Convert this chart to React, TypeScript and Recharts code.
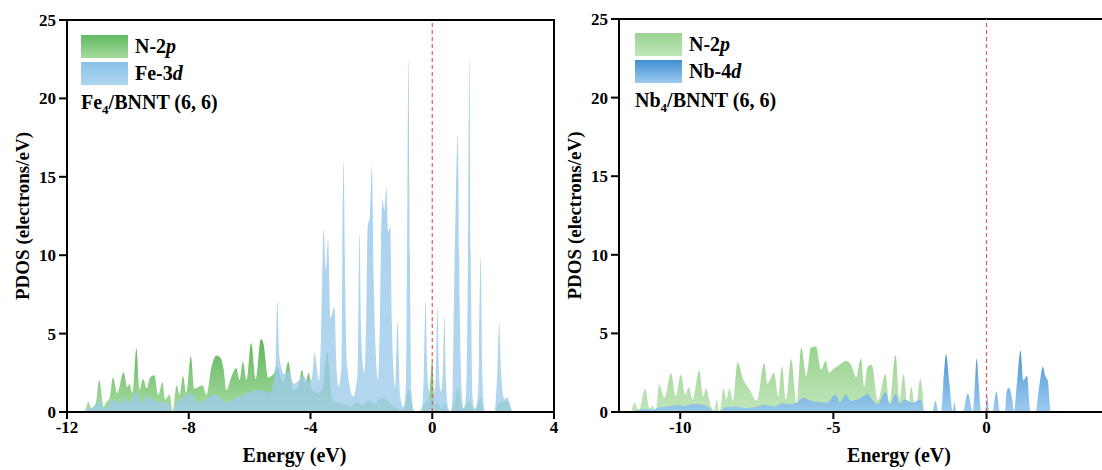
import React from "react";
import {
  ComposedChart,
  Area,
  XAxis,
  YAxis,
  ReferenceLine,
  ReferenceArea,
  Legend,
} from "recharts";

// Fe4/BNNT (6, 6)
const feN2pEnergy = [
  -11.5, -11.4, -11.3, -11.2, -11.05, -10.94, -10.8, -10.7, -10.6, -10.49, -10.35, -10.14,
  -10.02, -9.95, -9.85, -9.72, -9.62, -9.5, -9.38, -9.27, -9.13, -9.0, -8.86, -8.78, -8.63,
  -8.53, -8.4, -8.3, -8.19, -8.08, -7.93, -7.82, -7.68, -7.55, -7.42, -7.25, -7.09, -6.98,
  -6.85, -6.76, -6.6, -6.44, -6.33, -6.22, -6.1, -5.95, -5.8, -5.63, -5.55, -5.39, -5.22,
  -5.09, -4.9, -4.73, -4.57, -4.4, -4.28, -4.18, -4.06, -3.95, -3.8, -3.6, -3.45, -3.3,
  -3.15, -2.9, -2.7, -2.5, -2.3, -2.1, -1.9, -1.7, -1.5, -1.3, -1.1, -0.95, -0.78, -0.6,
  -0.4, -0.22, -0.1, 0.0, 0.08, 0.17, 0.3, 0.4, 0.55, 0.7, 0.84, 1.0, 1.22, 1.4, 1.59, 1.7,
  2.05, 2.2, 2.45, 2.62,
];
const feN2pDos = [
  0, 0.1, 0.66, 0.2, 0.6, 2.04, 0.35, 0.66, 0.9, 2.2, 1.2, 2.53,
  1.6, 1.78, 1.2, 4.06, 1.4, 2.1, 1.5, 2.2, 2.35, 1.1, 1.9, 0.8, 1.1,
  0.05, 1.7, 1.1, 2.3, 1.2, 3.55, 1.5, 1.6, 1.7, 1.1, 2.9, 3.6, 3.5,
  2.7, 1.4, 2.25, 2.8, 2.04, 3.2, 2.04, 4.4, 2.1, 4.66, 4.4, 2.2, 2.4,
  2.9, 1.9, 3.2, 1.4, 1.6, 2.7, 1.8, 2.5, 1.4, 1.2, 1.5, 3.8, 1.0,
  0.6, 0.5, 0.3, 0.6, 0.4, 0.7, 0.5, 0.9, 0.8, 0.4, 0.2, 0.1, 1.4, 0,
  0, 0.6, 1.0, 3.3, 0.5, 0.6, 0.2, 0.5, 0, 0.3, 1.5, 0.2, 0.7, 0.1, 0.9, 0,
  0, 0.6, 0.7, 0,
];

const fe3dEnergy = [
  -11.5, -11.4, -11.1, -10.94, -10.75, -10.49, -10.3, -10.14, -9.95, -9.72, -9.55, -9.36,
  -9.1, -8.8, -8.63, -8.53, -8.4, -8.2, -7.93, -7.7, -7.45, -7.2, -6.95, -6.77, -6.55,
  -6.33, -6.0, -5.67, -5.35, -5.2, -5.14, -5.09, -5.03, -4.98, -4.85, -4.72, -4.55, -4.4,
  -4.24, -4.05, -3.95, -3.87, -3.72, -3.65, -3.57, -3.5, -3.42, -3.35, -3.21, -3.15, -3.08,
  -2.98, -2.96, -2.91, -2.86, -2.8, -2.6, -2.45, -2.43, -2.39, -2.34, -2.28, -2.22, -2.17,
  -2.12, -2.05, -1.98, -1.93, -1.88, -1.78, -1.73, -1.68, -1.63, -1.57, -1.51, -1.45, -1.38,
  -1.33, -1.27, -1.22, -1.14, -1.05, -0.95, -0.87, -0.84, -0.78, -0.72, -0.68, -0.6, -0.45,
  -0.32, -0.27, -0.22, -0.17, -0.12, -0.03, 0.06, 0.12, 0.17, 0.22, 0.28, 0.35, 0.4, 0.45,
  0.52, 0.6, 0.66, 0.72, 0.78, 0.84, 0.9, 0.95, 1.03, 1.12, 1.17, 1.22, 1.27, 1.32, 1.4,
  1.5, 1.54, 1.59, 1.64, 1.69, 1.74, 2.05, 2.1, 2.15, 2.2, 2.25, 2.32, 2.38, 2.45, 2.55,
  2.62,
];
const fe3dDos = [
  0, 0.1, 0.4, 0.7, 0.2, 0.8, 0.5, 0.9, 0.6, 1.3, 0.6, 1.0,
  0.7, 0.6, 0.5, 0, 0.6, 0.9, 1.2, 0.6, 0.8, 1.1, 0.9, 0.6, 0.8,
  1.0, 1.3, 1.4, 1.2, 2.0, 3.5, 7.1, 3.8, 3.0, 2.4, 2.6, 1.8, 2.0,
  2.3, 1.9, 2.2, 3.8, 2.0, 5.0, 11.7, 9.0, 11.0, 6.0, 6.7, 3.0, 1.6,
  3.0, 8.5, 16.0, 8.0, 3.0, 1.0, 2.5, 6.0, 11.4, 5.5, 3.0, 2.5, 6.0,
  11.8, 12.5, 15.7, 9.0, 5.0, 2.0, 5.0, 11.0, 13.5, 12.8, 14.3, 11.5, 11.8,
  6.0, 2.5, 1.6, 5.8, 1.0, 0.3, 1.5, 6.5, 22.6, 6.5, 1.2, 0.1, 0,
  0.5, 3.0, 7.1, 3.0, 1.5, 0.8, 1.2, 2.5, 6.7, 2.5, 1.3, 2.5, 6.1, 2.0,
  0.3, 0, 0.8, 8.0, 14.0, 17.7, 7.0, 2.0, 0.2, 1.5, 9.0, 22.6, 9.0, 1.0, 0.2,
  1.0, 4.0, 9.9, 3.0, 0.5, 0, 0, 1.2, 3.0, 5.7, 3.0, 1.2, 0.8, 0.95, 0.5,
  0,
];

// Nb4/BNNT (6, 6)
const nbN2pEnergy = [
  -11.6, -11.5, -11.35, -11.15, -11.0, -10.9, -10.8, -10.69, -10.52, -10.3, -10.15, -9.98,
  -9.84, -9.72, -9.6, -9.38, -9.25, -9.16, -9.0, -8.9, -8.8, -8.72, -8.58, -8.5, -8.39,
  -8.28, -8.13, -7.95, -7.75, -7.5, -7.26, -7.15, -6.94, -6.8, -6.68, -6.55, -6.38, -6.2,
  -6.05, -5.88, -5.73, -5.57, -5.4, -5.25, -5.14, -5.02, -4.8, -4.59, -4.42, -4.26, -4.1,
  -3.99, -3.88, -3.75, -3.55, -3.3, -3.17, -2.97, -2.84, -2.71, -2.57, -2.46, -2.32, -2.16,
  -2.03,
];
const nbN2pDos = [
  0, 0.57, 0.1, 1.46, 0.23, 0.4, 0.05, 1.73, 0.93, 2.47, 1.0, 2.37,
  1.1, 1.56, 0.8, 2.62, 1.0, 1.5, 0.4, 0.1, 0.78, 0, 1.5, 0.8, 1.5,
  0.7, 3.15, 2.1, 1.46, 0.72, 3.1, 1.8, 2.5, 1.0, 2.9, 0.8, 3.36, 0.5,
  4.1, 2.3, 4.1, 4.17, 2.7, 3.25, 2.5, 2.7, 3.0, 3.25, 3.0, 2.2, 3.4,
  1.6, 2.9, 3.0, 0.72, 2.4, 0.6, 3.62, 0.8, 2.4, 0.2, 1.6, 0.15, 2.1,
  0,
];

const nb4dEnergy = [
  -11.6, -11.4, -11.15, -10.9, -10.69, -10.4, -10.1, -9.85, -9.6, -9.38, -9.1, -8.9, -8.72,
  -8.55, -8.2, -7.9, -7.6, -7.26, -6.9, -6.68, -6.38, -6.2, -6.05, -5.95, -5.73, -5.5,
  -5.2, -4.95, -4.85, -4.8, -4.59, -4.42, -4.1, -3.88, -3.74, -3.56, -3.3, -3.15, -2.97,
  -2.83, -2.68, -2.42, -2.16, -2.03, -1.77, -1.67, -1.56, -1.48, -1.41, -1.32, -1.21, -1.11,
  -1.05, -0.98, -0.77, -0.61, -0.44, -0.38, -0.32, -0.25, -0.17, -0.05, 0.02, 0.1, 0.19,
  0.32, 0.45, 0.6, 0.66, 0.73, 0.84, 0.9, 1.0, 1.11, 1.2, 1.32, 1.44, 1.6, 1.72, 1.84,
  1.92, 2.0, 2.1, 2.25, 2.32, 2.4,
];
const nb4dDos = [
  0, 0.15, 0.2, 0.15, 0.3, 0.35, 0.45, 0.4, 0.5, 0.5, 0.35, 0.05, 0,
  0.3, 0.35, 0.25, 0.3, 0.45, 0.35, 0.55, 0.5, 0.6, 0.85, 0.9, 0.7, 0.65,
  0.6, 1.1, 0.85, 0.6, 1.1, 0.7, 0.9, 1.15, 0.8, 0.5, 1.25, 0.5, 1.15,
  0.55, 0.8, 0.6, 0.8, 0, 0, 0.72, 0, 0, 1.8, 3.68, 1.8, 0.1,
  0.6, 0, 0, 1.2, 0, 1.7, 3.4, 1.7, 0, 0, 1.0, 0, 0,
  1.3, 0, 0, 1.3, 1.54, 0.8, 0.05, 1.95, 3.9, 2.0, 2.3, 0, 0, 1.6, 2.9,
  2.3, 2.0, 0, 0, 0.1, 0,
];

const yTicks = [0, 5, 10, 15, 20, 25];
const feXTicks = [-12, -8, -4, 0, 4];
const nbXTicks = [-10, -5, 0];

type Series = { key: string; energy: number[]; dos: number[] };

function mergeSeries(series: Series[]) {
  const rows = new Map<number, Record<string, number>>();
  series.forEach((s) => {
    s.energy.forEach((e, i) => {
      const row = rows.get(e) || { energy: e };
      row[s.key] = s.dos[i];
      rows.set(e, row);
    });
  });
  return Array.from(rows.values()).sort((a, b) => a.energy - b.energy);
}

const FONT = '"Liberation Serif", "Times New Roman", serif';

interface PanelProps {
  id: string;
  left: number;
  width: number;
  margin: { top: number; right: number; left: number; bottom: number };
  xTicks: number[];
  xLabelDx: number;
  series: Series[];
  labels: Record<string, React.ReactNode>;
  swatches: Record<string, string>;
  fills: Record<string, { top: string; bottom: string; opacity: number }>;
  title: React.ReactNode;
  legendPos: { top: number; left: number };
}

function Panel(p: PanelProps) {
  const data = mergeSeries(p.series);
  const order = p.series.map((s) => s.key);
  const tickStyle = { fill: "#000", fontSize: 17, fontWeight: 700, fontFamily: FONT };
  const line = { stroke: "#000", strokeWidth: 2 };

  const renderLegend = (props: any) => {
    const items = [...(props.payload || [])].sort(
      (a: any, b: any) => order.indexOf(a.dataKey) - order.indexOf(b.dataKey)
    );
    return (
      <div style={{ fontFamily: FONT, fontWeight: 700, fontSize: 20, color: "#000" }}>
        {items.map((item: any) => (
          <div
            key={item.dataKey}
            style={{ display: "flex", alignItems: "center", height: 23, marginBottom: 4 }}
          >
            <div style={{ width: 47, height: 23, background: p.swatches[item.dataKey] }} />
            <span style={{ marginLeft: 7, lineHeight: "23px" }}>{p.labels[item.dataKey]}</span>
          </div>
        ))}
        <div style={{ lineHeight: "26px", whiteSpace: "nowrap" }}>{p.title}</div>
      </div>
    );
  };

  return (
    <div style={{ position: "absolute", left: p.left, top: 0 }}>
      <ComposedChart width={p.width} height={470} data={data} margin={p.margin}>
        <defs>
          {p.series.map((s) => (
            <linearGradient key={s.key} id={`${p.id}-${s.key}`} x1="0" y1="0" x2="0" y2="1">
              <stop offset="0%" stopColor={p.fills[s.key].top} />
              <stop offset="100%" stopColor={p.fills[s.key].bottom} />
            </linearGradient>
          ))}
        </defs>
        <XAxis
          dataKey="energy"
          type="number"
          domain={[-12, 4]}
          ticks={p.xTicks}
          allowDataOverflow
          height={58}
          tick={tickStyle}
          tickSize={7}
          tickMargin={2}
          axisLine={line}
          tickLine={line}
          label={{
            value: "Energy (eV)",
            position: "insideBottom",
            offset: 8,
            dx: p.xLabelDx,
            fontSize: 20,
            fontWeight: 700,
            fill: "#000",
            fontFamily: FONT,
          }}
        />
        <YAxis
          type="number"
          domain={[0, 25]}
          ticks={yTicks}
          allowDataOverflow
          width={40}
          tick={tickStyle}
          tickSize={8}
          tickMargin={3}
          axisLine={line}
          tickLine={line}
          label={{
            value: "PDOS (electrons/eV)",
            angle: -90,
            position: "center",
            dx: -25,
            fontSize: 19,
            fontWeight: 700,
            fill: "#000",
            fontFamily: FONT,
          }}
        />
        <ReferenceArea
          x1={-12}
          x2={4}
          y1={0}
          y2={25}
          fill="none"
          stroke="#000"
          strokeWidth={2}
        />
        {p.series.map((s) => (
          <Area
            key={s.key}
            dataKey={s.key}
            name={s.key}
            type="monotone"
            connectNulls
            stroke="none"
            fill={`url(#${p.id}-${s.key})`}
            fillOpacity={p.fills[s.key].opacity}
            isAnimationActive={false}
            dot={false}
            activeDot={false}
          />
        ))}
        <ReferenceLine x={0} stroke="#e45858" strokeWidth={1.2} strokeDasharray="4 3" />
        <Legend
          layout="vertical"
          verticalAlign="middle"
          align="center"
          content={renderLegend}
          wrapperStyle={{ top: p.legendPos.top, left: p.legendPos.left, width: "auto", height: "auto" }}
        />
      </ComposedChart>
    </div>
  );
}

export default function App() {
  return (
    <div
      style={{
        position: "absolute",
        left: 0,
        top: 0,
        width: 1102,
        height: 470,
        overflow: "hidden",
        background: "#fff",
        fontFamily: FONT,
      }}
    >
      <Panel
        id="fe"
        left={0}
        width={570}
        margin={{ top: 20, right: 16, left: 27, bottom: 0 }}
        xTicks={feXTicks}
        xLabelDx={-16}
        series={[
          { key: "n2p", energy: feN2pEnergy, dos: feN2pDos },
          { key: "fe3d", energy: fe3dEnergy, dos: fe3dDos },
        ]}
        labels={{
          n2p: (
            <>
              N-2<i>p</i>
            </>
          ),
          fe3d: (
            <>
              Fe-3<i>d</i>
            </>
          ),
        }}
        swatches={{
          n2p: "linear-gradient(#62ba60, #a6d99e)",
          fe3d: "linear-gradient(#8bc2e7, #aed5ef)",
        }}
        fills={{
          n2p: { top: "#5db55b", bottom: "#a9dba0", opacity: 1 },
          fe3d: { top: "#8ec3e8", bottom: "#9dcbea", opacity: 0.78 },
        }}
        title={
          <>
            Fe<sub style={{ fontSize: 13 }}>4</sub>/BNNT (6, 6)
          </>
        }
        legendPos={{ top: 35, left: 81 }}
      />
      <Panel
        id="nb"
        left={560}
        width={560}
        margin={{ top: 19, right: 11, left: 19, bottom: 0 }}
        xTicks={nbXTicks}
        xLabelDx={35}
        series={[
          { key: "n2p", energy: nbN2pEnergy, dos: nbN2pDos },
          { key: "nb4d", energy: nb4dEnergy, dos: nb4dDos },
        ]}
        labels={{
          n2p: (
            <>
              N-2<i>p</i>
            </>
          ),
          nb4d: (
            <>
              Nb-4<i>d</i>
            </>
          ),
        }}
        swatches={{
          n2p: "linear-gradient(#99d391, #bfe5b8)",
          nb4d: "linear-gradient(#3f8fd1, #9ccbef)",
        }}
        fills={{
          n2p: { top: "#98d28f", bottom: "#c2e6ba", opacity: 1 },
          nb4d: { top: "#3a8bd0", bottom: "#95c7ee", opacity: 0.92 },
        }}
        title={
          <>
            Nb<sub style={{ fontSize: 13 }}>4</sub>/BNNT (6, 6)
          </>
        }
        legendPos={{ top: 33, left: 75 }}
      />
    </div>
  );
}
